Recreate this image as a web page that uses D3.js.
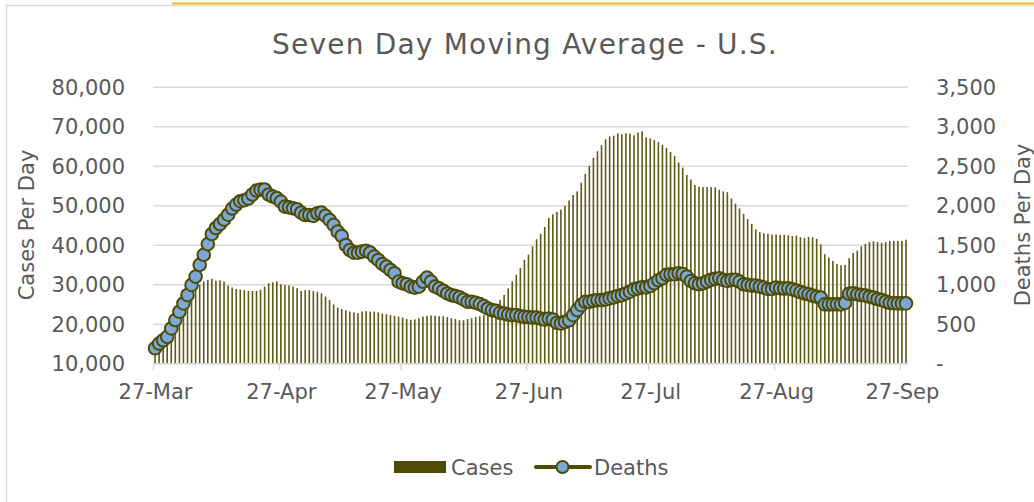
<!DOCTYPE html>
<meta charset="utf-8">
<style>
body {
  margin: 0;
  background: #fff;
}
text {
  font-family: "DejaVu Sans", sans-serif;
  fill: #595959;
}
.axis text {
  font-size: 21px;
}
</style>
<body>
<svg width="1034" height="502"></svg>
<script src="https://d3js.org/d3.v7.min.js"></script>
<script>
// seven day averages, one value per day starting 27 Mar 2020
var startDay = "2020-03-27";

var cases = [
  12500, 14200, 15800, 17500, 19400, 21300, 23200, 25000, 26500, 27900,
  29000, 29900, 30700, 31100, 31400, 30900, 31000, 30700, 29700, 29200,
  28800, 28700, 28500, 28300, 28300, 28300, 28600, 29400, 30300, 30500,
  30700, 30000, 29800, 29700, 29400, 29000, 28300, 28500, 28500, 28300,
  28100, 27700, 26900, 26000, 24900, 24100, 23700, 23400, 23100, 22900,
  22700, 23100, 23200, 23100, 23100, 22900, 22600, 22400, 22200, 22000,
  21800, 21600, 21200, 21000, 21100, 21400, 21800, 22000, 22100, 22000,
  21900, 21900, 21700, 21400, 21200, 20900, 20900, 21200, 21400, 21700,
  21900, 22200, 22700, 23500, 24300, 26000, 27300, 29000, 30700, 32400,
  34100, 36200, 37500, 39600, 41400, 42800, 44500, 46800, 47700, 48300,
  48900, 49900, 51200, 52600, 53500, 55700, 57900, 60000, 62000, 63700,
  65200, 66700, 67400, 67600, 68200, 68000, 68200, 68100, 67700, 68400,
  68700, 67200, 66900, 66500, 66000, 65300, 64500, 63500, 62500, 60800,
  59500, 57700, 56500, 55100, 54700, 54600, 54600, 54600, 54500, 53900,
  53500, 53300, 51700, 50400, 49200, 47800, 46500, 45300, 43900, 43200,
  42900, 42800, 42600, 42600, 42500, 42500, 42400, 42200, 42300, 41900,
  41700, 42000, 41900, 41500, 40100, 37600, 36800, 35900, 35100, 34800,
  34900, 36600, 37900, 38500, 39600, 40200, 40700, 40900, 40700, 40500,
  40700, 40900, 41000, 41000, 41000, 41300
];

var deaths = [
  190, 250, 292, 335, 441, 547, 653, 758, 864, 992,
  1097, 1246, 1373, 1508, 1636, 1712, 1763, 1818, 1881, 1958,
  2008, 2051, 2064, 2085, 2136, 2186, 2199, 2199, 2136, 2110,
  2090, 2046, 1982, 1975, 1962, 1949, 1906, 1877, 1877, 1865,
  1899, 1906, 1865, 1814, 1751, 1666, 1611, 1497, 1434, 1400,
  1400, 1413, 1425, 1400, 1350, 1308, 1257, 1223, 1181, 1139,
  1033, 1013, 1000, 970, 958, 970, 1034, 1085, 1034, 970,
  948, 918, 884, 863, 851, 834, 808, 778, 778, 766,
  749, 723, 694, 673, 664, 639, 630, 617, 609, 609,
  596, 588, 585, 579, 579, 567, 554, 567, 554, 512,
  503, 524, 545, 609, 673, 736, 778, 778, 791, 800,
  800, 808, 821, 834, 851, 863, 884, 906, 935, 948,
  961, 961, 978, 1012, 1050, 1076, 1119, 1127, 1127, 1140,
  1130, 1097, 1042, 1013, 1000, 1013, 1034, 1055, 1068, 1076,
  1055, 1042, 1055, 1055, 1034, 1000, 992, 983, 983, 970,
  958, 941, 941, 958, 949, 945, 950, 935, 920, 900,
  885, 873, 856, 843, 831, 746, 746, 746, 746, 746,
  764, 880, 886, 873, 864, 856, 843, 831, 814, 801,
  780, 765, 760, 758, 758, 758
];

var tickDays = ["2020-03-27", "2020-04-27", "2020-05-27", "2020-06-27",
                "2020-07-27", "2020-08-27", "2020-09-27"];
var casesTicks = [10000, 20000, 30000, 40000, 50000, 60000, 70000, 80000];
var deathsTicks = [0, 500, 1000, 1500, 2000, 2500, 3000, 3500];

var olive = "#4f4b00";

var svg = d3.select("svg");
var parse = d3.timeParse("%Y-%m-%d");
var first = parse(startDay);
var days = d3.timeDay.range(first, d3.timeDay.offset(first, cases.length));

var plotLeft = 153, plotRight = 908, plotTop = 86.7, plotBottom = 363.3;

var x = d3.scaleTime()
    .domain([first, d3.timeDay.offset(first, cases.length)])
    .range([plotLeft, plotRight]);
var half = (x(days[1]) - x(days[0])) / 2;

var yL = d3.scaleLinear().domain([10000, 80000]).range([plotBottom, plotTop]);
var yR = d3.scaleLinear().domain([0, 3500]).range([plotBottom, plotTop]);

// frame and top strip
svg.append("rect")
    .attr("x", 6.5).attr("y", 5.5)
    .attr("width", 1100).attr("height", 600)
    .attr("fill", "none").attr("stroke", "#d9d9d9").attr("stroke-width", 1.5);
svg.append("line")
    .attr("x1", 172).attr("x2", 1034).attr("y1", 3.5).attr("y2", 3.5)
    .attr("stroke", "#f4bb22").attr("stroke-width", 2);

// title
svg.append("text")
    .attr("x", 525).attr("y", 54)
    .attr("text-anchor", "middle")
    .style("font-size", "28px")
    .style("letter-spacing", "1.2px")
    .text("Seven Day Moving Average - U.S.");

// grid
svg.append("g")
    .attr("transform", "translate(" + plotLeft + ",0)")
    .call(d3.axisLeft(yL).tickValues(casesTicks).tickSize(-(plotRight - plotLeft)).tickFormat(""))
    .call(function(g) { g.select(".domain").remove(); })
    .selectAll("line")
      .attr("stroke", "#d9d9d9").attr("stroke-width", 1.6);

// left axis
svg.append("g")
    .attr("class", "axis")
    .attr("transform", "translate(" + plotLeft + ",0)")
    .call(d3.axisLeft(yL).tickValues(casesTicks).tickSize(0).tickPadding(28).tickFormat(d3.format(",")))
    .call(function(g) { g.select(".domain").remove(); })
    .selectAll("text").attr("dy", "0.36em");

// right axis
svg.append("g")
    .attr("class", "axis")
    .attr("transform", "translate(" + plotRight + ",0)")
    .call(d3.axisRight(yR).tickValues(deathsTicks).tickSize(0).tickPadding(28)
      .tickFormat(function(d) { return d === 0 ? "-" : d3.format(",")(d); }))
    .call(function(g) { g.select(".domain").remove(); })
    .selectAll("text").attr("dy", "0.36em");

// bars
svg.append("g")
  .selectAll("rect")
  .data(days)
  .enter().append("rect")
    .attr("x", function(d) { return x(d) + half - 0.8; })
    .attr("width", 1.6)
    .attr("y", function(d, i) { return yL(cases[i]); })
    .attr("height", function(d, i) { return yL(10000) - yL(cases[i]); })
    .attr("fill", "#5d5a14");

// bottom axis
var xAxis = svg.append("g")
    .attr("class", "axis")
    .attr("transform", "translate(0," + plotBottom + ")")
    .call(d3.axisBottom(x).tickValues(tickDays.map(parse)).tickSize(7).tickSizeOuter(0)
      .tickFormat(d3.timeFormat("%d-%b")));
xAxis.select(".domain").attr("stroke", "#d9d9d9").attr("stroke-width", 1.5);
xAxis.selectAll(".tick line").attr("stroke", "#d9d9d9").attr("stroke-width", 1.5);
xAxis.selectAll(".tick text").attr("y", 36).attr("dy", 0).attr("x", 2);

// deaths line and markers
var line = d3.line()
    .x(function(d) { return x(d) + half; })
    .y(function(d, i) { return yR(deaths[i]); });

svg.append("path")
    .datum(days)
    .attr("d", line)
    .attr("fill", "none")
    .attr("stroke", olive)
    .attr("stroke-width", 3);

svg.append("g")
  .selectAll("circle")
  .data(days)
  .enter().append("circle")
    .attr("cx", function(d) { return x(d) + half; })
    .attr("cy", function(d, i) { return yR(deaths[i]); })
    .attr("r", 6.3)
    .attr("fill", "#7ba7d9")
    .attr("stroke", olive)
    .attr("stroke-width", 2);

// axis titles
svg.append("text")
    .attr("transform", "translate(33.5," + ((plotTop + plotBottom) / 2) + ") rotate(-90)")
    .attr("text-anchor", "middle")
    .style("font-size", "21px")
    .text("Cases Per Day");

svg.append("text")
    .attr("transform", "translate(1030," + ((plotTop + plotBottom) / 2) + ") rotate(-90)")
    .attr("text-anchor", "middle")
    .style("font-size", "21px")
    .text("Deaths Per Day");

// legend
var legend = svg.append("g");
legend.append("rect")
    .attr("x", 394).attr("y", 461).attr("width", 52).attr("height", 12)
    .attr("fill", olive);
legend.append("text")
    .attr("x", 451).attr("y", 474.5)
    .style("font-size", "21px")
    .text("Cases");
legend.append("line")
    .attr("x1", 536).attr("x2", 590).attr("y1", 467).attr("y2", 467)
    .attr("stroke", olive).attr("stroke-width", 4).attr("stroke-linecap", "round");
legend.append("circle")
    .attr("cx", 562.5).attr("cy", 467).attr("r", 6)
    .attr("fill", "#7ba7d9").attr("stroke", olive).attr("stroke-width", 2);
legend.append("text")
    .attr("x", 594).attr("y", 474.5)
    .style("font-size", "21px")
    .text("Deaths");
</script>
</body>
